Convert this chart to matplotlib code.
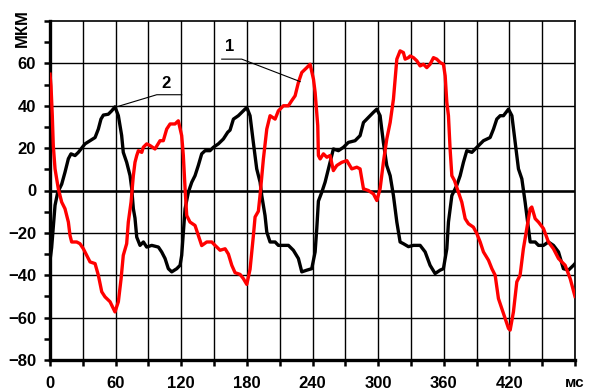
"""Two oscillation traces (curve 1 red, curve 2 black), мкм vs мс."""
import matplotlib
matplotlib.use('Agg')
import matplotlib.pyplot as plt
import numpy as np

# --- Data ---
T2 = [0, 1.5, 4.6, 7, 10.7, 13.7, 16.8, 19.2, 22.9, 25.9, 32, 36.6, 41.2, 44.2,
      46.6, 48.8, 53.3, 56.4, 59.4, 62.5, 65.5, 67, 70.1, 73.2, 74.7, 76.2, 77.7,
      79.3, 82.3, 85.4, 88.4, 93, 99.1, 102.1, 105.2, 108.2, 111.3, 115.9, 118.9,
      120.4, 121.9, 123.5, 126.5, 129.6, 132.6, 135.6, 138.7, 141.8, 146.3, 149.4,
      153.9, 158.5, 162.5, 164.6, 167.7, 172.2, 176.8, 179.9, 182.9, 185.9, 189,
      192.1, 193.6, 196.6, 198.2, 201.2, 205.8, 208.8, 218, 222.5, 227.1, 230.2,
      234.8, 239.3, 242.4, 243.9, 245.4, 248.5, 251.5, 254.6, 257.6, 259.1, 263.7,
      268.3, 272.8, 278.9, 283.5, 286.6, 291.1, 295.7, 298.8, 301.8, 304.8, 307.9,
      311, 314, 317.1, 320.1, 323.1, 327.7, 332.3, 338.4, 343, 347.5, 352.1, 356.7,
      359.7, 362.8, 364.3, 367.4, 371.9, 375, 378, 381.1, 385.7, 390.3, 396.3,
      402.4, 405.5, 408.5, 411.6, 414.6, 419.2, 422.3, 425.3, 428.3, 431.4, 434.4,
      437.5, 439, 443.6, 446.6, 451.2, 455.7, 460.3, 464.9, 469.4, 474, 478.6, 480]
Y2 = [-33, -27, -7, -1, 3, 8.6, 15, 17.3, 16.5, 18, 22, 23.5, 25, 29,
      33.7, 35.6, 36, 37.6, 39.5, 35.3, 26, 18, 13.3, 7, 1, -8.6, -13,
      -22, -25.9, -24.3, -26.7, -25.9, -26.7, -29, -32.1, -36.9, -38.4, -36.9, -35.3,
      -30.6, -19.6, -8.6, -0.8, 3.9, 7, 11.8, 17.3, 18.8, 18.8, 20.4,
      22, 24.3, 27.5, 28.5, 33.7, 35.3, 37.6, 39.2, 35.3, 22.7, 10.2,
      3.9, -2.4, -11.8, -19.6, -24.3, -24.3, -25.9, -25.9, -28.2, -32.1, -38.4,
      -37.6, -36.9, -29, -18, -5, -0.8, 3.9, 10.2, 16.5, 19.6, 18.8,
      20.4, 22.7, 23.5, 25.9, 32.1, 34.5, 36.9, 38.4, 35.3, 22.7, 11.8,
      7, -2.4, -14.9, -24.3, -25.1, -26.5, -25.9, -25.9, -29, -35.3, -39.2, -37.6,
      -36.9, -27.5, -14.9, -2.4, 2.4, 7, 13.3, 18.8, 18, 20.4, 23.5,
      25, 29, 33.7, 35.3, 35.3, 38.4, 35.3, 22.7, 10.2, 5.5, -5.5,
      -18, -24.3, -24.3, -25.9, -25.9, -24.3, -25.9, -29, -36.9, -37.6, -35.3, -34.5]

T1 = [0, 0.9, 2.1, 3, 4.6, 6.1, 7.6, 10.7, 13.7, 16.8, 18.3, 19.8, 24.4, 27.4,
      30.5, 33.6, 36.6, 41.2, 44.2, 47.3, 50.3, 54.9, 57.9, 59.4, 62.5, 65, 67,
      70.1, 71.6, 74.1, 76.2, 77.7, 79.3, 80.8, 83.9, 85.3, 88.4, 91.5, 96, 100.6,
      103.6, 106.7, 109.8, 114.3, 117.3, 120.4, 121.9, 123.5, 125, 128, 132.6,
      135.6, 138.7, 143.3, 147.9, 150.9, 155.5, 160.1, 163.1, 166.2, 169.2, 173.8,
      176.8, 179.9, 182.9, 185.9, 187.5, 190.5, 192.1, 195.1, 198.2, 201.2, 205.8,
      208.8, 213.4, 218, 221, 224.1, 227.1, 230.2, 234.8, 237.8, 240.9, 242.4,
      244.8, 245.4, 247, 250, 253.1, 256.1, 259.1, 262.2, 266.8, 271.4, 275.9,
      280.5, 283.5, 286.6, 291.1, 295.7, 298.8, 301.8, 304.8, 307.9, 311, 314,
      317.1, 320.1, 323.1, 324.7, 327.7, 329.3, 332.3, 335.4, 338.4, 341.4, 344.5,
      347.5, 350.6, 353.6, 356.7, 359.7, 361.3, 362.8, 364.3, 365.8, 367.4, 369.8,
      372.9, 376.5, 379.6, 382.6, 387.1, 390.3, 393.3, 396.3, 400.9, 404, 407,
      410, 413.1, 416.2, 419.2, 420.7, 423.7, 426.8, 429.8, 432.8, 435.9, 439,
      440.5, 443.6, 446.6, 451.2, 455.7, 460.3, 464.9, 471, 475.6, 480]
Y1 = [54.9, 49.4, 35.3, 21.2, 10.2, 5.5, 0.8, -5.5, -8.6, -14.9, -21.2, -24.3, -24.3, -25.1,
      -27.5, -30.6, -33.7, -34.5, -40, -47.8, -50.2, -52.5, -55.7, -57.3, -52.5, -41.6, -30.6,
      -25.1, -14.9, -5.5, 7, 13.3, 16.5, 18.8, 18, 20.4, 22, 21.2, 19.6, 23.5,
      23.5, 29, 31.4, 31.4, 32.9, 25.9, 16.5, 0.8, -11.8, -14.9, -16.5,
      -21.2, -26, -24.3, -24.3, -25.9, -28.2, -27.5, -30, -35.3, -38.8, -39.6,
      -41.6, -44.3, -37.2, -21.6, -12.5, -9.8, -2, 14.9, 29, 35.3, 33.7,
      37.6, 40, 40, 42.4, 44.7, 51, 55.7, 58, 59.6, 52.5, 46.3,
      30.6, 16.5, 14.9, 17.3, 15.7, 16.5, 9.4, 11.8, 13.3, 14.1, 10.2,
      11, 10.2, 0.8, 0, -1.6, -4.7, 0.8, 13.3, 24.3, 32.1, 43.1,
      62, 65.9, 65.1, 62, 62.7, 63.5, 62.7, 61.2, 58.8, 59.6, 58,
      59.6, 62.7, 62, 60.4, 59.6, 54.1, 41.6, 35.3, 19.6, 7, 4.7,
      0, -5.5, -13.3, -15.7, -17.3, -20.4, -24.3, -29, -32.9, -36.9, -40,
      -51, -55.7, -60.4, -65.1, -65.9, -57.3, -43.1, -40, -27.5, -18, -8.6,
      -7.8, -13.3, -14.9, -18, -24.3, -27.5, -32.1, -35.3, -41.6, -50]

X_MAJOR = [0, 60, 120, 180, 240, 300, 360, 420, 480]
X_LABELS = ['0', '60', '120', '180', '240', '300', '360', '420', 'мс']
Y_MAJOR = [-80, -60, -40, -20, 0, 20, 40, 60]

plt.rcParams.update({
    'font.family': ['Liberation Sans', 'DejaVu Sans'],
    'font.size': 12,
    'font.weight': 'bold',
})

fig = plt.figure(figsize=(5.96, 3.92), dpi=100, facecolor='white')
ax = fig.add_axes([50 / 596, 32 / 392, 525 / 596, 339 / 392])

ax.set_xlim(0, 480)
ax.set_ylim(-80, 80)

# grid: vertical every 30 ms, horizontal every 20 мкм
ax.set_xticks(X_MAJOR)
ax.set_xticklabels(X_LABELS)
ax.set_xticks(np.arange(30, 481, 60), minor=True)
ax.set_yticks(Y_MAJOR)
ax.set_yticks(np.arange(-70, 81, 10), minor=True)
ax.grid(True, which='major', color='black', linewidth=1.0)
ax.grid(True, which='minor', axis='x', color='black', linewidth=1.0)
ax.set_axisbelow(True)

ax.tick_params(which='both', direction='out', length=4, width=1.8, color='black')
ax.tick_params(axis='x', pad=7.5)
ax.tick_params(axis='y', pad=6)
ax.get_xticklabels()[-1].set_fontsize(11)

for side in ['left', 'bottom']:
    ax.spines[side].set_linewidth(2.4)
for side in ['top', 'right']:
    ax.spines[side].set_linewidth(1.2)

ax.axhline(0, color='black', linewidth=1.8, zorder=1)

ax.plot(T2, Y2, color='black', linewidth=2.4, zorder=3)
ax.plot(T1, Y1, color='#ff0000', linewidth=2.4, zorder=4)

# leader lines for curve numbers
ax.plot([61, 97.6, 120.4], [39.5, 45.2, 45.2], color='black', linewidth=0.8, zorder=5)
ax.text(106, 50.5, '2', ha='center', va='center', fontsize=12, fontweight='bold')
ax.plot([157, 175.3, 228.7], [62, 62, 51.4], color='black', linewidth=0.8, zorder=5)
ax.text(164.6, 67.8, '1', ha='center', va='center', fontsize=12, fontweight='bold')

# unit label of the y axis
fig.text(22 / 596, 1 - 28 / 392, 'МКМ', rotation=90, ha='center', va='center',
         fontsize=12, fontweight='bold')

fig.savefig('out.png', dpi=100, facecolor='white')
